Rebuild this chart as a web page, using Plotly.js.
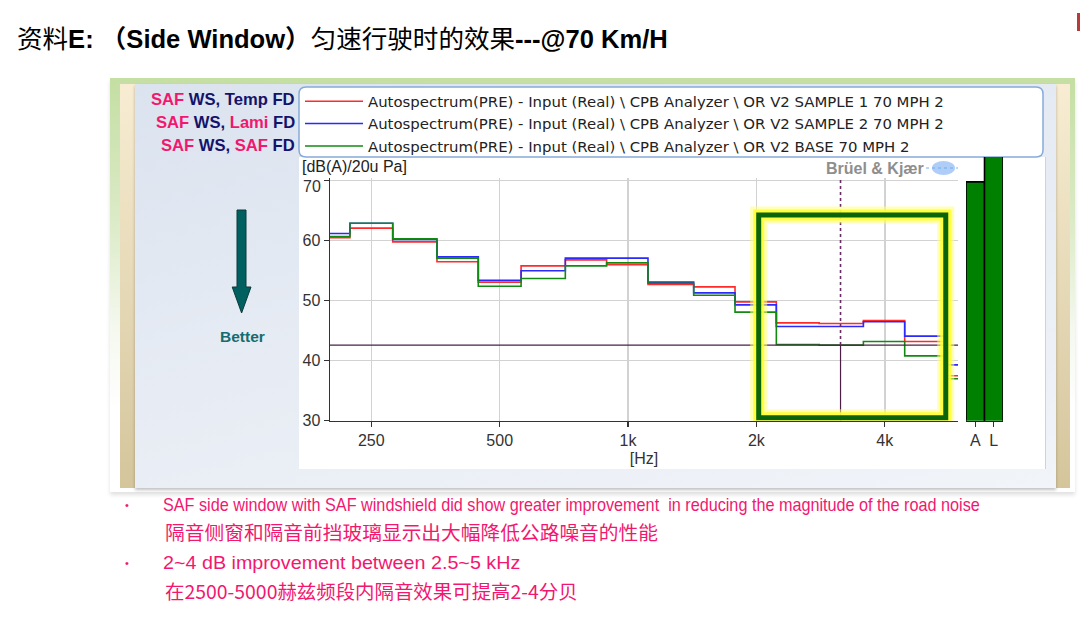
<!DOCTYPE html>
<html>
<head>
<meta charset="utf-8">
<script src="https://cdn.plot.ly/plotly-3.0.1.min.js"></script>
<style>
  html, body { margin:0; padding:0; background:#fff; }
  #page { position:relative; width:1080px; height:618px; overflow:hidden; background:#fff; }
  .abs { position:absolute; }
  .fit { position:absolute; white-space:nowrap; transform-origin:0 50%; width:max-content; }
  .pink { color:#f2176f; }
</style>
</head>
<body>
<div id="page">
  <!-- slide decoration behind the chart -->
  <div class="abs" style="left:110px;top:78px;width:965px;height:414px;background:linear-gradient(to bottom,#c4dea3 0%,#dcebc8 35%,#f4f8ee 60%,#ffffff 80%);box-shadow:0 3px 4px rgba(0,0,0,0.12);"></div>
  <div class="abs" style="left:120px;top:84px;width:15px;height:404px;background:linear-gradient(to bottom,#f8edd3,#d4c59b);"></div>
  <div class="abs" style="left:1056px;top:84px;width:14px;height:404px;background:linear-gradient(to bottom,#f8edd3,#d4c59b);"></div>
  <div class="abs" style="left:135px;top:84px;width:921px;height:404px;background:linear-gradient(165deg,#dbe3ef 0%,#e7ecf4 50%,#f1f4f9 100%);box-shadow:0 2px 3px rgba(0,0,0,0.25);"></div>
  <div class="abs" style="left:299px;top:157px;width:746px;height:312px;background:#fff;border-right:1px solid #cfd3d8;"></div>
  <div class="abs" style="left:1077px;top:13px;width:3px;height:18px;background:#b83a3a;"></div>

  <div id="plot" class="abs" style="left:0;top:0;width:1080px;height:618px;"></div>

  <!-- slide text -->
  <div id="slideTitle" class="fit" style="left:17px;top:23px;height:28px;line-height:28px;font-size:25px;color:#000;"><span style="font-family:'Noto Sans CJK SC';">资料</span><span style="font-family:'Liberation Sans';font-weight:bold;">E:&nbsp;</span><span style="font-family:'Noto Sans CJK SC';font-weight:bold;">（</span><span style="font-family:'Liberation Sans';font-weight:bold;">Side Window</span><span style="font-family:'Noto Sans CJK SC';font-weight:bold;">）</span><span style="font-family:'Noto Sans CJK SC';">匀速行驶时的效果</span><span style="font-family:'Liberation Sans';font-weight:bold;">---@70 Km/H</span></div>

  <div class="abs pink" style="left:125px;top:496px;line-height:18px;font-size:11px;font-family:'Liberation Sans';">•</div>
  <div id="b1" class="fit pink" style="left:163px;top:494px;line-height:22px;font-size:18.5px;font-family:'Liberation Sans';">SAF side window with SAF windshield did show greater improvement&nbsp; in reducing the magnitude of the road noise</div>
  <div id="c1" class="fit pink" style="left:165px;top:522px;line-height:20px;font-size:19px;font-family:'Noto Sans CJK SC';">隔音侧窗和隔音前挡玻璃显示出大幅降低公路噪音的性能</div>
  <div class="abs pink" style="left:125px;top:554px;line-height:18px;font-size:11px;font-family:'Liberation Sans';">•</div>
  <div id="b2" class="fit pink" style="left:163px;top:552px;line-height:22px;font-size:18.5px;font-family:'Liberation Sans';">2~4 dB improvement between 2.5~5 kHz</div>
  <div id="c2" class="fit pink" style="left:165px;top:581px;line-height:20px;font-size:19px;font-family:'Noto Sans CJK SC';">在2500-5000赫兹频段内隔音效果可提高2-4分贝</div>
</div>

<script>
function fit(id, target) {
  const el = document.getElementById(id);
  if (!el) return;
  el.style.transform = 'none';
  const w = el.offsetWidth || el.scrollWidth;
  if (w > 0) el.style.transform = 'scaleX(' + (target / w).toFixed(4) + ')';
}
function fitAll() {
  fit('slideTitle', 651); fit('b1', 817); fit('c1', 493); fit('b2', 357); fit('c2', 413);
}
fitAll();
if (document.fonts && document.fonts.ready) { document.fonts.ready.then(fitAll); }
</script>

<script>
// ---------------- data ----------------
const bands = [200, 250, 315, 400, 500, 630, 800, 1000, 1250, 1600, 2000, 2500, 3150, 4000, 5000, 6300];
const sample1 = [60.5, 62.1, 59.8, 56.5, 53.1, 55.8, 56.8, 56.0, 52.7, 52.3, 49.8, 46.3, 46.2, 46.7, 43.2, 37.5]; // red
const sample2 = [61.2, 62.9, 60.2, 57.3, 53.4, 55.0, 57.1, 57.1, 53.1, 51.3, 49.3, 45.7, 45.7, 46.5, 44.1, 39.3]; // blue
const baseline = [60.7, 62.9, 60.3, 57.1, 52.4, 53.7, 55.8, 56.3, 52.9, 50.9, 48.1, 42.7, 42.6, 43.2, 40.8, 37.0]; // green
const seriesNames = [
  'Autospectrum(PRE) - Input (Real) \\ CPB Analyzer \\ OR V2 SAMPLE 1 70 MPH 2',
  'Autospectrum(PRE) - Input (Real) \\ CPB Analyzer \\ OR V2 SAMPLE 2 70 MPH 2',
  'Autospectrum(PRE) - Input (Real) \\ CPB Analyzer \\ OR V2 BASE 70 MPH 2'
];
const seriesLabels = [
  "<span style='color:#f2176f'>SAF</span> WS, Temp FD",
  "<span style='color:#f2176f'>SAF</span> WS, <span style='color:#f2176f'>Lami</span> FD",
  "<span style='color:#f2176f'>SAF</span> WS, <span style='color:#f2176f'>SAF</span> FD"
];
const overallCats = ['A', 'L'];
const overallBase = [69.8, 75.5];
const xTickVals = [250, 500, 1000, 2000, 4000];
const xTickText = ['250', '500', '1k', '2k', '4k'];
const yTickVals = [30, 40, 50, 60, 70];
const yTickText = ['30', '40', '50', '60', '70'];
const cursorFreq = 3150;
const highlightFreq = [2025, 5560];
const highlightLevel = [30.5, 64.3];

// ---------------- helpers ----------------
const W = 1080, H = 618;
const X = p => p / W;
const Y = p => 1 - p / H;
const third = Math.pow(2, 1 / 6);
function stepX() { return bands.map(b => b / third).concat([bands[bands.length - 1] * third]); }
function stepY(v) { return v.concat([v[v.length - 1]]); }
const cursorLevel = baseline[bands.indexOf(cursorFreq)];
const xRange = [Math.log10(200), Math.log10(5940)];
const yRange = [30, 70.45];
const tickFont = { family: 'Liberation Sans, Arial, sans-serif', size: 16, color: '#333' };

const colors = ['#ff2a2a', '#2a2aff', '#128a12'];
const vals = [sample1, sample2, baseline];
const traces = vals.map((v, i) => ({
  type: 'scatter', mode: 'lines', x: stepX(), y: stepY(v), name: seriesNames[i],
  line: { shape: 'hv', color: colors[i], width: 1.6 }, xaxis: 'x', yaxis: 'y', hoverinfo: 'skip'
}));
traces.push({
  type: 'bar', x: overallCats, y: overallBase, xaxis: 'x2', yaxis: 'y2', showlegend: false,
  marker: { color: '#008000', line: { color: '#000', width: 1.6 } }, hoverinfo: 'skip'
});

function P(pts) { return 'M' + pts.map(p => X(p[0]) + ',' + Y(p[1])).join(' L') + ' Z'; }
const arrowPath = P([[237, 210], [246, 210], [246, 287], [251, 287], [241.6, 313], [232.2, 287], [237, 287]]);
function roundRect(x0, y0, x1, y1, r) {
  const f = (x, y) => X(x) + ',' + Y(y);
  return 'M' + f(x0 + r, y0) + ' L' + f(x1 - r, y0) + ' Q' + f(x1, y0) + ' ' + f(x1, y0 + r) +
    ' L' + f(x1, y1 - r) + ' Q' + f(x1, y1) + ' ' + f(x1 - r, y1) +
    ' L' + f(x0 + r, y1) + ' Q' + f(x0, y1) + ' ' + f(x0, y1 - r) +
    ' L' + f(x0, y0 + r) + ' Q' + f(x0, y0) + ' ' + f(x0 + r, y0) + ' Z';
}

const shapes = [
  { type: 'path', xref: 'paper', yref: 'paper', layer: 'below', path: roundRect(299, 87, 1043, 157, 7),
    fillcolor: '#ffffff', line: { color: '#86abd9', width: 1.5 } },
  { type: 'path', xref: 'paper', yref: 'paper', path: arrowPath, fillcolor: '#005f5f', line: { color: '#0b3a3a', width: 1 } },
  { type: 'circle', xref: 'paper', yref: 'paper', x0: X(932), x1: X(955), y0: Y(175), y1: Y(161),
    fillcolor: 'rgba(110,165,240,0.55)', line: { width: 0 } },
  { type: 'line', xref: 'paper', yref: 'paper', x0: X(926), x1: X(958), y0: Y(168), y1: Y(168),
    line: { color: 'rgba(110,165,240,0.6)', width: 1.5, dash: 'dot' } },
  { type: 'line', xref: 'x domain', yref: 'y', x0: 0, x1: 1, y0: cursorLevel, y1: cursorLevel,
    line: { color: '#4a1f45', width: 1.2 } },
  { type: 'line', xref: 'x', yref: 'y', x0: cursorFreq, x1: cursorFreq, y0: cursorLevel, y1: yRange[1],
    line: { color: '#6a2a66', width: 1.6, dash: 'dot' } },
  { type: 'line', xref: 'x', yref: 'y', x0: cursorFreq, x1: cursorFreq, y0: yRange[0], y1: cursorLevel,
    line: { color: '#4a1f45', width: 1.2 } },
  { type: 'rect', xref: 'x', yref: 'y', x0: highlightFreq[0], x1: highlightFreq[1], y0: highlightLevel[0], y1: highlightLevel[1],
    line: { color: 'rgba(255,255,120,0.55)', width: 17 } },
  { type: 'rect', xref: 'x', yref: 'y', x0: highlightFreq[0], x1: highlightFreq[1], y0: highlightLevel[0], y1: highlightLevel[1],
    line: { color: 'rgba(255,255,40,0.85)', width: 11 } },
  { type: 'rect', xref: 'x', yref: 'y', x0: highlightFreq[0], x1: highlightFreq[1], y0: highlightLevel[0], y1: highlightLevel[1],
    line: { color: '#0a640a', width: 5 } }
];

const annotations = [
  { xref: 'paper', yref: 'paper', x: X(300), y: Y(167), xanchor: 'left', yanchor: 'middle', showarrow: false,
    text: '[dB(A)/20u Pa]', font: { family: 'Liberation Sans, Arial', size: 16, color: '#222' } },
  { xref: 'paper', yref: 'paper', x: X(926), y: Y(168), xanchor: 'right', yanchor: 'middle', showarrow: false,
    text: '<b>Brüel & Kjær</b>', font: { family: 'Liberation Sans, Arial', size: 16, color: '#8e8e8e' } },
  { xref: 'paper', yref: 'paper', x: X(242), y: Y(336), xanchor: 'center', yanchor: 'middle', showarrow: false,
    text: '<b>Better</b>', font: { family: 'Liberation Sans, Arial', size: 15.5, color: '#156c6e' } },
  // top tick label sits just below its grid line, as in the analyzer screenshot
  { xref: 'paper', yref: 'y', x: X(323), y: yTickVals[yTickVals.length - 1], yshift: -5.5, xanchor: 'right', yanchor: 'middle',
    showarrow: false, text: yTickText[yTickText.length - 1], font: tickFont }
];
[100, 122.5, 145].forEach((yy, i) => annotations.push({
  xref: 'paper', yref: 'paper', x: X(297), y: Y(yy), xanchor: 'right', yanchor: 'middle', showarrow: false,
  text: '<b>' + seriesLabels[i] + '</b>', font: { family: 'Liberation Sans, Arial', size: 16.6, color: '#13136b' }
}));

const layout = {
  width: W, height: H, margin: { l: 0, r: 0, t: 0, b: 0, pad: 0 },
  paper_bgcolor: 'rgba(0,0,0,0)', plot_bgcolor: 'rgba(0,0,0,0)',
  showlegend: true, bargap: 0,
  legend: { x: X(300), y: Y(85), xanchor: 'left', yanchor: 'top', bgcolor: 'rgba(0,0,0,0)', borderwidth: 0,
    itemwidth: 58, tracegroupgap: 0, font: { family: 'DejaVu Sans, Verdana, sans-serif', size: 14.9, color: '#222' } },
  xaxis: { domain: [X(330), X(958)], type: 'log', range: xRange, anchor: 'y',
    tickmode: 'array', tickvals: xTickVals, ticktext: xTickText, tickfont: tickFont,
    showgrid: true, gridcolor: '#d2d2d2', gridwidth: 1.5, zeroline: false,
    showline: true, linecolor: '#333', linewidth: 1.5, ticks: 'outside', ticklen: 5, tickcolor: '#333', tickwidth: 1.2,
    title: { text: '[Hz]', font: tickFont, standoff: 4 } },
  yaxis: { domain: [Y(420.7), Y(178)], range: yRange, anchor: 'x',
    tickmode: 'array', tickvals: yTickVals,
    ticktext: yTickText.map((t, i) => i === yTickText.length - 1 ? ' ' : t), tickfont: tickFont,
    showgrid: true, gridcolor: '#d2d2d2', gridwidth: 1.5, zeroline: false,
    showline: true, linecolor: '#333', linewidth: 1.5, ticks: 'outside', ticklen: 5, tickcolor: '#333', tickwidth: 1.2 },
  xaxis2: { domain: [X(966), X(1003)], type: 'category', anchor: 'y2', tickfont: tickFont,
    tickmode: 'array', tickvals: overallCats, ticktext: overallCats,
    showgrid: false, zeroline: false, showline: true, linecolor: '#222', linewidth: 1.5,
    ticks: 'outside', ticklen: 5, tickcolor: '#333', tickwidth: 1.2 },
  yaxis2: { domain: [Y(420.7), Y(157)], range: [30, 30 + (420.7 - 157) / 6], anchor: 'x2', visible: false },
  shapes: shapes, annotations: annotations
};

try {
  Plotly.newPlot('plot', traces, layout, { displayModeBar: false, staticPlot: true });
} catch (e) { console.error(e); }
fitAll();
</script>
</body>
</html>
